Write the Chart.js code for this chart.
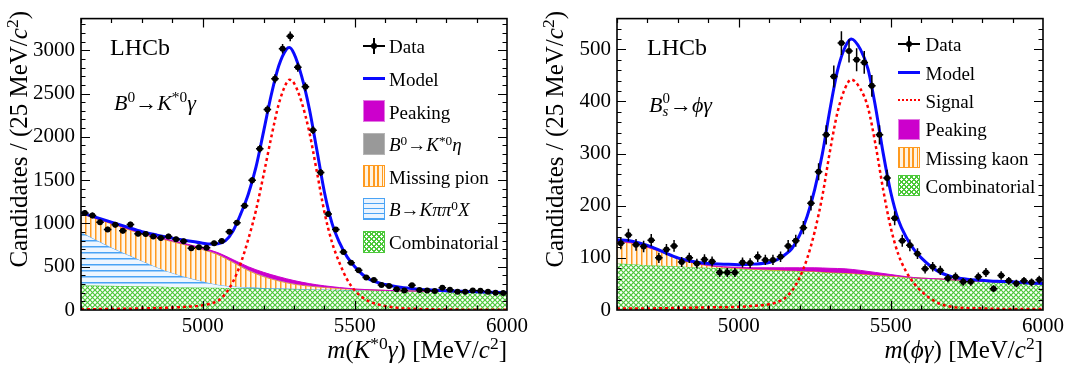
<!DOCTYPE html>
<html>
<head>
<meta charset="utf-8">
<title>B0 to K*0 gamma and Bs0 to phi gamma mass fits</title>
<script src="https://cdn.jsdelivr.net/npm/chart.js@4.4.1/dist/chart.umd.min.js"></script>
<style>
    body { margin: 0; background: #fff; }
    #wrap { position: relative; width: 1077px; height: 367px; overflow: hidden; background: #fff;
            font-family: 'Liberation Serif', 'Times New Roman', serif; color: #000; }
    #wrap canvas { position: absolute; top: 0; }
    .txt { position: absolute; white-space: nowrap; }
    .lhcb { font-size: 24px; line-height: 24px; }
    .decay { font-size: 22px; line-height: 22px; }
    .ytitle { position: absolute; width: 300px; text-align: right; font-size: 25px; line-height: 25px;
              transform: rotate(-90deg); transform-origin: 0 0; white-space: nowrap; }
    .xtitle { position: absolute; width: 300px; text-align: right; font-size: 25px; line-height: 25px; white-space: nowrap; }
    .leg { position: absolute; font-size: 19px; line-height: 19px; white-space: nowrap; }
    sup { font-size: 0.7em; position: relative; top: -0.5em; vertical-align: baseline; line-height: 0; }
    .ss { display: inline-block; font-size: 0.68em; line-height: 0.9em; vertical-align: -0.3em; }
    .ss span { display: block; }
    .sw { position: absolute; width: 22px; box-sizing: border-box; }
    .sw-peak { background: #cc00cc; border: 1.5px solid #e27ae2; }
    .sw-grey { background: #999999; border: 1.5px solid #b5b5b5; }
    .sw-orange { border: 1.5px solid #ff9a1f;
                 background: repeating-linear-gradient(90deg, #ff9a1f 0 1.5px, #fff3e0 1.5px 4.5px); }
    .sw-blue { border: 1.5px solid #4aa3f5;
               background: repeating-linear-gradient(0deg, #4aa3f5 0 1.5px, #eaf4ff 1.5px 5px); }
    .sw-green { border: 1.5px solid #4cc83a;
                background: repeating-linear-gradient(45deg, #4cc83a 0 1.2px, transparent 1.2px 3.5px),
                            repeating-linear-gradient(-45deg, #4cc83a 0 1.2px, transparent 1.2px 3.5px), #fff; }
    .ln-model { position: absolute; width: 22px; height: 3px; background: #0a0aff; }
    .ln-signal { position: absolute; width: 22px; height: 0; border-top: 2.5px dotted #ff0000; }
    .mk { position: absolute; width: 0; height: 0; }
    .mk span { position: absolute; background: #000; }
</style>
</head>
<body>
<div id="wrap">
    <canvas id="kstChart" width="536" height="367" style="left:0"></canvas>
    <canvas id="phiChart" width="541" height="367" style="left:536px"></canvas>

    <div class="txt lhcb" style="left:110px; top:34.5px">LHCb</div>
    <div class="txt decay" style="left:114px; top:91.6px"><i>B</i><sup>0</sup>→<i>K</i><sup>*0</sup><i>γ</i></div>
    <div class="ytitle" style="left:5.5px; top:311px">Candidates / (25 MeV/<i>c</i><sup>2</sup>)</div>
    <div class="xtitle" style="left:207px; top:337px"><i>m</i>(<i>K</i><sup>*0</sup><i>γ</i>) [MeV/<i>c</i><sup>2</sup>]</div>

    <div class="txt lhcb" style="left:647px; top:34.5px">LHCb</div>
    <div class="txt decay" style="left:649px; top:91.6px"><i>B</i><span class="ss"><span>0</span><span><i>s</i></span></span>→<i>ϕγ</i></div>
    <div class="ytitle" style="left:541.5px; top:311px">Candidates / (25 MeV/<i>c</i><sup>2</sup>)</div>
    <div class="xtitle" style="left:743px; top:337px"><i>m</i>(<i>ϕγ</i>) [MeV/<i>c</i><sup>2</sup>]</div>

    <div id="kstLegend"></div>
    <div id="phiLegend"></div>
</div>

<script>
// ---------------------------------------------------------
// DATA
// ---------------------------------------------------------
const binLo = 4600;
const binWidth = 25;
const xTicks = [5000, 5500, 6000];
const kstYTicks = [0, 500, 1000, 1500, 2000, 2500, 3000];
const phiYTicks = [0, 100, 200, 300, 400, 500];

// B0 -> K*0 gamma: candidates per 25 MeV bin, 4600..6000
const kstCounts = [1120, 1092, 1012, 930, 985, 915, 988, 880, 877, 850, 830, 850, 818, 795,
    714, 726, 720, 771, 798, 905, 1008, 1204, 1498, 1862, 2314, 2671, 3017, 3160,
    2803, 2577, 2077, 1588, 1110, 929, 669, 545, 459, 376, 346, 288, 278, 240,
    226, 285, 230, 226, 220, 256, 234, 212, 212, 226, 222, 210, 200, 196];

// Bs0 -> phi gamma: candidates per 25 MeV bin
const phiCounts = [128, 144, 125, 122, 134, 100, 116, 123, 92, 100, 89, 97, 93, 72,
    72, 72, 91, 90, 102, 96, 96, 102, 123, 133, 158, 205, 265, 336,
    448, 512, 497, 480, 475, 430, 336, 253, 176, 133, 124, 108, 79, 83,
    76, 61, 64, 54, 54, 64, 72, 41, 66, 56, 51, 56, 53, 58];

// background components sampled every 50 MeV
const bgMass = [4600, 4650, 4700, 4750, 4800, 4850, 4900, 4950, 5000, 5050, 5100, 5150, 5200, 5250,
    5300, 5350, 5400, 5450, 5500, 5550, 5600, 5650, 5700, 5750, 5800, 5850, 5900, 5950, 6000];

const kstComb   = [285, 282, 279, 276, 273, 270, 267, 264, 261, 258, 255, 252, 249, 246, 243, 240, 237, 234, 231, 228, 225, 222, 219, 216, 213, 210, 206, 202, 198];
const kstKpipi0 = [612, 526, 442, 367, 294, 222, 161, 111, 69, 34, 17, 10, 6, 4, 3, 1, 1, 0, 0, 0, 0, 0, 0, 0, 0, 0, 0, 0, 0];
const kstMissPi = [215, 244, 274, 292, 310, 340, 361, 370, 367, 346, 276, 193, 130, 85, 52, 34, 22, 14, 7, 3, 1, 0, 0, 0, 0, 0, 0, 0, 0];
const kstEta    = [2, 2, 3, 3, 3, 3, 4, 4, 5, 6, 7, 8, 8, 7, 6, 4, 3, 2, 1, 0, 0, 0, 0, 0, 0, 0, 0, 0, 0];
const kstPeak   = [3, 4, 5, 6, 7, 8, 9, 11, 13, 18, 26, 36, 42, 42, 36, 26, 16, 9, 4, 2, 1, 0, 0, 0, 0, 0, 0, 0, 0];

const phiComb   = [89, 88, 86, 85, 84, 82, 81, 80, 79, 78, 77, 76, 75, 74, 72, 71, 69, 67, 65, 63, 61, 60, 58, 57, 55, 54, 53, 51, 50];
const phiMissK  = [42, 40, 34, 25, 14, 8, 4, 2, 1, 0, 0, 0, 0, 0, 0, 0, 0, 0, 0, 0, 0, 0, 0, 0, 0, 0, 0, 0, 0];
const phiPeak   = [1, 1, 1, 1, 1, 1, 1, 1, 2, 3, 4, 5, 6, 7, 8, 8, 7, 5, 3, 1, 0, 0, 0, 0, 0, 0, 0, 0, 0];

// fit curves
const kstModelMass = [4600, 4650, 4700, 4750, 4800, 4850, 4900, 4950, 5000, 5025, 5050, 5075, 5100, 5125,
    5150, 5175, 5200, 5225, 5250, 5275, 5285, 5300, 5325, 5350, 5375, 5400, 5425, 5450, 5475, 5500,
    5525, 5550, 5600, 5650, 5700, 5750, 5800, 5850, 5900, 5950, 6000];
const kstModel = [1125, 1070, 1015, 960, 905, 865, 830, 800, 772, 762, 765, 800, 915, 1110,
    1340, 1650, 2060, 2480, 2820, 3010, 3030, 2960, 2700, 2330, 1850, 1360, 1000, 775, 610, 500,
    410, 350, 294, 263, 244, 232, 223, 216, 210, 205, 201];

const kstSigMass = [4600, 4700, 4800, 4900, 4950, 5000, 5025, 5050, 5075, 5100, 5125, 5150, 5175, 5200,
    5225, 5250, 5275, 5285, 5300, 5325, 5350, 5375, 5400, 5425, 5450, 5475, 5500, 5525, 5550,
    5600, 5650, 5700, 5800, 5900, 6000];
const kstSignal = [8, 12, 18, 28, 38, 55, 75, 105, 190, 330, 540, 820, 1150, 1560,
    1990, 2380, 2620, 2660, 2620, 2400, 2060, 1600, 1130, 780, 540, 350, 225, 145, 95,
    45, 22, 12, 6, 3, 2];

const phiModelMass = [4600, 4650, 4700, 4750, 4800, 4850, 4900, 4950, 5000, 5050, 5100, 5125, 5150, 5175,
    5200, 5225, 5250, 5275, 5300, 5325, 5350, 5370, 5400, 5425, 5450, 5475, 5500, 5525, 5550,
    5575, 5600, 5650, 5700, 5750, 5800, 5850, 5900, 5950, 6000];
const phiModel = [135, 132, 124, 112, 100, 93, 89, 88, 87, 88, 91, 96, 105, 118,
    143, 180, 232, 300, 385, 460, 505, 520, 500, 462, 388, 300, 225, 172, 140,
    117, 100, 76, 64, 59, 57, 55, 54, 52, 51];

const phiSigMass = [4600, 4700, 4800, 4900, 5000, 5050, 5100, 5125, 5150, 5175, 5200, 5225, 5250, 5275,
    5300, 5325, 5350, 5370, 5400, 5425, 5450, 5475, 5500, 5525, 5550, 5575, 5600, 5650, 5700,
    5800, 5900, 6000];
const phiSignal = [3, 3, 4, 5, 6, 8, 11, 15, 22, 37, 62, 99, 151, 219,
    305, 380, 426, 442, 424, 388, 316, 230, 157, 106, 74, 52, 36, 15, 6,
    3, 2, 2];

// ---------------------------------------------------------
// HELPERS
// ---------------------------------------------------------
const COL = {
    model: '#0a0aff', signal: '#ff0000', peak: '#cc00cc', grey: '#999999',
    orange: '#ff9a1f', blue: '#4aa3f5', green: '#4cc83a'
};

const pts = (xs, ys) => xs.map((x, i) => ({ x, y: ys[i] }));
const binned = counts => counts.map((c, i) => ({ x: binLo + binWidth * (i + 0.5), y: c }));

// running sum of layers, bottom to top
const stackUp = layers => {
    let run = layers[0].map(() => 0);
    return layers.map(l => (run = run.map((v, i) => v + l[i])));
};

const tile = (w, h, draw) => {
    const c = document.createElement('canvas');
    c.width = w; c.height = h;
    const g = c.getContext('2d');
    draw(g, w, h);
    return c;
};

const makeFills = ctx => ({
    green: ctx.createPattern(tile(5, 5, (g, w, h) => {
        g.fillStyle = '#fff'; g.fillRect(0, 0, w, h);
        g.strokeStyle = COL.green; g.lineWidth = 1.2;
        g.beginPath();
        g.moveTo(0, 0); g.lineTo(w, h);
        g.moveTo(w, 0); g.lineTo(0, h);
        g.stroke();
    }), 'repeat'),
    orange: ctx.createPattern(tile(5, 5, (g, w, h) => {
        g.fillStyle = '#fff6ea'; g.fillRect(0, 0, w, h);
        g.fillStyle = COL.orange; g.fillRect(0, 0, 1.5, h);
    }), 'repeat'),
    blue: ctx.createPattern(tile(6, 6, (g, w, h) => {
        g.fillStyle = '#eef6ff'; g.fillRect(0, 0, w, h);
        g.fillStyle = COL.blue; g.fillRect(0, 0, w, 1.5);
    }), 'repeat'),
    peak: COL.peak,
    grey: COL.grey
});

// ROOT style frame with ticks on all four sides
const rootFrame = {
    id: 'rootFrame',
    afterDraw(chart, args, o) {
        const { ctx, chartArea: a, scales: { x, y } } = chart;
        ctx.save();
        ctx.strokeStyle = '#000';
        ctx.lineWidth = 1.2;
        ctx.beginPath();
        for (let k = Math.ceil(x.min / o.xMinor); k * o.xMinor < x.max; k++) {
            const v = k * o.xMinor;
            const len = v % o.xMajor === 0 ? 9 : 4.5;
            const px = Math.round(x.getPixelForValue(v)) + 0.5;
            ctx.moveTo(px, a.bottom); ctx.lineTo(px, a.bottom - len);
            ctx.moveTo(px, a.top); ctx.lineTo(px, a.top + len);
        }
        for (let k = 1; k * o.yMinor < y.max; k++) {
            const v = k * o.yMinor;
            const len = v % o.yMajor === 0 ? 9 : 4.5;
            const py = Math.round(y.getPixelForValue(v)) + 0.5;
            ctx.moveTo(a.left, py); ctx.lineTo(a.left + len, py);
            ctx.moveTo(a.right, py); ctx.lineTo(a.right - len, py);
        }
        ctx.stroke();
        ctx.lineWidth = 1.6;
        ctx.strokeRect(a.left, a.top, a.right - a.left, a.bottom - a.top);
        ctx.restore();
    }
};

// Poisson vertical errors and bin-width horizontal bars for the data
const errorBars = {
    id: 'errorBars',
    afterDatasetsDraw(chart, args, o) {
        const ds = chart.data.datasets.find(d => d.label === 'Data');
        if (!ds) return;
        const { ctx, scales: { x, y } } = chart;
        ctx.save();
        ctx.strokeStyle = '#000';
        ctx.lineWidth = 1.5;
        ctx.beginPath();
        ds.data.forEach(p => {
            const e = Math.sqrt(p.y);
            const px = x.getPixelForValue(p.x);
            const py = y.getPixelForValue(p.y);
            ctx.moveTo(px, y.getPixelForValue(p.y - e));
            ctx.lineTo(px, y.getPixelForValue(p.y + e));
            ctx.moveTo(x.getPixelForValue(p.x - o.halfWidth), py);
            ctx.lineTo(x.getPixelForValue(p.x + o.halfWidth), py);
        });
        ctx.stroke();
        ctx.restore();
    }
};

Chart.defaults.font.family = "'Liberation Serif', 'Times New Roman', serif";
Chart.defaults.color = '#000';

const buildChart = (id, p) => {
    const canvas = document.getElementById(id);
    const fills = makeFills(canvas.getContext('2d'));
    const tops = stackUp(p.bands.map(b => b.values));

    const datasets = p.bands.map((b, i) => ({
        label: b.label,
        type: 'line',
        data: pts(bgMass, tops[i]),
        fill: i === 0 ? 'origin' : '-1',
        backgroundColor: fills[b.fill],
        borderColor: b.line || 'rgba(0,0,0,0)',
        borderWidth: b.line ? 1 : 0,
        pointRadius: 0,
        cubicInterpolationMode: 'monotone',
        order: 10 + p.bands.length - i
    }));

    datasets.push({
        label: 'Signal', type: 'line', data: pts(p.sigMass, p.signal),
        borderColor: COL.signal, borderWidth: 2.5, borderDash: [3, 3],
        pointRadius: 0, fill: false, cubicInterpolationMode: 'monotone', order: 2
    });
    datasets.push({
        label: 'Model', type: 'line', data: pts(p.modelMass, p.model),
        borderColor: COL.model, borderWidth: 3,
        pointRadius: 0, fill: false, cubicInterpolationMode: 'monotone', order: 1
    });
    datasets.push({
        label: 'Data', type: 'scatter', data: binned(p.counts),
        backgroundColor: '#000', borderColor: '#000', pointRadius: 3, borderWidth: 0,
        showLine: false, order: 0
    });

    return new Chart(canvas, {
        type: 'line',
        data: { datasets },
        plugins: [rootFrame, errorBars],
        options: {
            responsive: false,
            animation: false,
            events: [],
            layout: { padding: { top: 12, right: p.padRight, left: 0, bottom: 0 } },
            plugins: {
                legend: { display: false },
                tooltip: { enabled: false },
                rootFrame: { xMinor: 100, xMajor: 500, yMinor: p.yMinor, yMajor: p.yMajor },
                errorBars: { halfWidth: binWidth / 2 }
            },
            scales: {
                x: {
                    type: 'linear', min: 4600, max: 6000,
                    grid: { display: false, drawTicks: false }, border: { display: false },
                    ticks: { font: { size: 21 }, color: '#000', padding: 4, maxRotation: 0, autoSkip: false,
                             callback: v => String(v) },
                    afterBuildTicks: s => { s.ticks = xTicks.map(v => ({ value: v })); },
                    afterFit: s => { s.height = 57; }
                },
                y: {
                    type: 'linear', min: 0, max: p.yMax,
                    grid: { display: false, drawTicks: false }, border: { display: false },
                    ticks: { font: { size: 21 }, color: '#000', padding: 6, callback: v => String(v) },
                    afterBuildTicks: s => { s.ticks = p.yTicks.map(v => ({ value: v })); },
                    afterFit: s => { s.width = 81; }
                }
            }
        }
    });
};

// ---------------------------------------------------------
// LEGENDS (html text)
// ---------------------------------------------------------
const addLegend = (hostId, l) => {
    const host = document.getElementById(hostId);
    host.innerHTML = l.entries.map(([kind, label], i) => {
        const cy = l.y0 + l.dy * i;
        let sample = '';
        if (kind === 'data') {
            sample = `<div class="mk" style="left:${l.x}px;top:${cy}px">
                <span style="left:0;top:-0.75px;width:22px;height:1.5px"></span>
                <span style="left:10.25px;top:-8px;width:1.5px;height:16px"></span>
                <span style="left:8px;top:-3px;width:6px;height:6px;border-radius:50%"></span></div>`;
        } else if (kind === 'model') {
            sample = `<div class="ln-model" style="left:${l.x}px;top:${cy - 1.5}px"></div>`;
        } else if (kind === 'signal') {
            sample = `<div class="ln-signal" style="left:${l.x}px;top:${cy - 1.25}px"></div>`;
        } else {
            sample = `<div class="sw sw-${kind}" style="left:${l.x}px;top:${cy - l.h / 2}px;height:${l.h}px"></div>`;
        }
        return sample + `<div class="leg" style="left:${l.tx}px;top:${cy - 8.6}px">${label}</div>`;
    }).join('');
};

addLegend('kstLegend', {
    x: 363, tx: 389, y0: 46, dy: 32.6, h: 22,
    entries: [
        ['data', 'Data'],
        ['model', 'Model'],
        ['peak', 'Peaking'],
        ['grey', '<i>B</i><sup>0</sup>→<i>K</i><sup>*0</sup><i>η</i>'],
        ['orange', 'Missing pion'],
        ['blue', '<i>B</i>→<i>Kππ</i><sup>0</sup><i>X</i>'],
        ['green', 'Combinatorial']
    ]
});

addLegend('phiLegend', {
    x: 898, tx: 925.5, y0: 44, dy: 28.35, h: 21,
    entries: [
        ['data', 'Data'],
        ['model', 'Model'],
        ['signal', 'Signal'],
        ['peak', 'Peaking'],
        ['orange', 'Missing kaon'],
        ['green', 'Combinatorial']
    ]
});

// ---------------------------------------------------------
// CHARTS
// ---------------------------------------------------------
buildChart('kstChart', {
    counts: kstCounts,
    bands: [
        { label: 'Combinatorial', values: kstComb, fill: 'green', line: COL.green },
        { label: 'B -> K pi pi0 X', values: kstKpipi0, fill: 'blue', line: COL.blue },
        { label: 'Missing pion', values: kstMissPi, fill: 'orange', line: COL.orange },
        { label: 'B0 -> K*0 eta', values: kstEta, fill: 'grey', line: null },
        { label: 'Peaking', values: kstPeak, fill: 'peak', line: COL.peak }
    ],
    modelMass: kstModelMass, model: kstModel,
    sigMass: kstSigMass, signal: kstSignal,
    yMax: 3365, yTicks: kstYTicks, yMinor: 100, yMajor: 500, padRight: 29
});

buildChart('phiChart', {
    counts: phiCounts,
    bands: [
        { label: 'Combinatorial', values: phiComb, fill: 'green', line: COL.green },
        { label: 'Missing kaon', values: phiMissK, fill: 'orange', line: COL.orange },
        { label: 'Peaking', values: phiPeak, fill: 'peak', line: COL.peak }
    ],
    modelMass: phiModelMass, model: phiModel,
    sigMass: phiSigMass, signal: phiSignal,
    yMax: 559, yTicks: phiYTicks, yMinor: 20, yMajor: 100, padRight: 34
});
</script>
</body>
</html>
